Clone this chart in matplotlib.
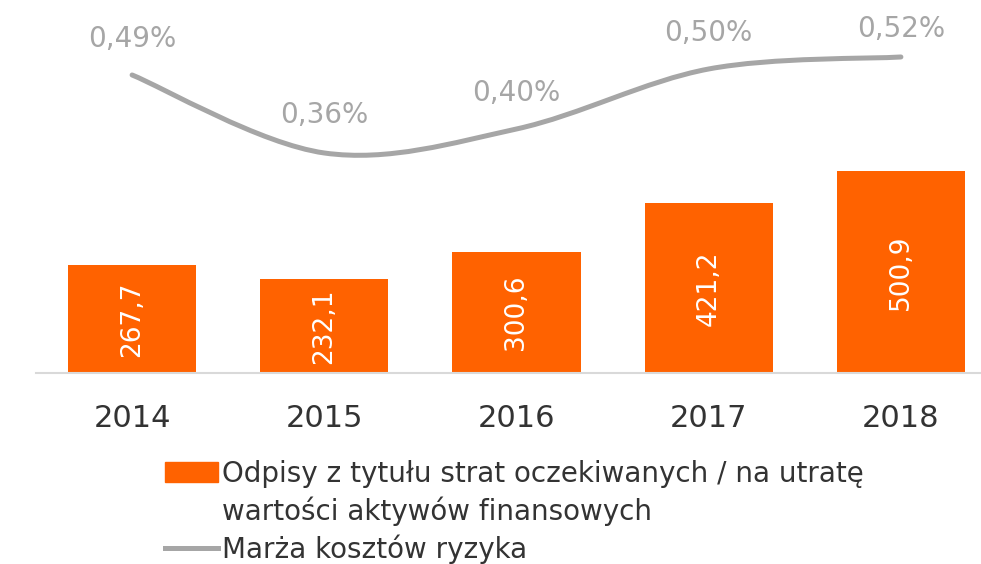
import numpy as np
import matplotlib.pyplot as plt
from matplotlib.path import Path
from matplotlib.patches import PathPatch, Patch
from matplotlib.lines import Line2D

plt.rcParams['font.family'] = ['DejaVu Sans']

# Data
years = ['2014', '2015', '2016', '2017', '2018']
writeoffs = [267.7, 232.1, 300.6, 421.2, 500.9]
risk_margin = [0.49, 0.36, 0.40, 0.50, 0.52]
writeoff_labels = ['267,7', '232,1', '300,6', '421,2', '500,9']
margin_labels = ['0,49%', '0,36%', '0,40%', '0,50%', '0,52%']

orange = '#FF6200'
grey = '#A6A6A6'
text_col = '#333333'

fig = plt.figure(figsize=(9.81, 5.64), dpi=100)
ax = fig.add_axes([36 / 981, 191 / 564, 961 / 981, 363 / 564])
ax2 = ax.twinx()

x = np.arange(len(years))
ax.bar(x, writeoffs, width=0.667, color=orange, zorder=2)
for xi, v, lab in zip(x, writeoffs, writeoff_labels):
    ax.text(xi, v / 2, lab, rotation=90, ha='center', va='center',
            color='white', fontsize=19)

ax.set_xlim(-0.5, 4.5)
ax.set_ylim(0, 900)
ax.set_xticks(x)
ax.set_xticklabels(years, fontsize=22, color=text_col)
ax.tick_params(axis='x', length=0, pad=22)
ax.set_yticks([])
for s in ['top', 'right', 'left']:
    ax.spines[s].set_visible(False)
ax.spines['bottom'].set_color('#D9D9D9')
ax.spines['bottom'].set_linewidth(1.5)

# smoothed line (Bezier through the points, Excel-like smoothing)
pts = np.column_stack([x, risk_margin]).astype(float)
ext = np.vstack([pts[0], pts, pts[-1]])
verts = [tuple(pts[0])]
codes = [Path.MOVETO]
for i in range(len(pts) - 1):
    p0, p1, p2, p3 = ext[i], ext[i + 1], ext[i + 2], ext[i + 3]
    c1 = p1 + (p2 - p0) / 6
    c2 = p2 - (p3 - p1) / 6
    verts += [tuple(c1), tuple(c2), tuple(p2)]
    codes += [Path.CURVE4] * 3
ax2.add_patch(PathPatch(Path(verts, codes), facecolor='none', edgecolor=grey,
                        lw=3.6, capstyle='round', zorder=3))
ax2.set_ylim(-0.0067, 0.5983)
ax2.set_yticks([])
for s in ax2.spines.values():
    s.set_visible(False)

offsets = [26, 27, 26, 26, 20]
for xi, v, lab, off in zip(x, risk_margin, margin_labels, offsets):
    ax2.annotate(lab, (xi, v), xytext=(0, off), textcoords='offset points',
                 ha='center', va='center', color=grey, fontsize=20)

handles = [Patch(color=orange), Patch(color='none'), Line2D([], [], color=grey, lw=3.6)]
labels = ['Odpisy z tytułu strat oczekiwanych / na utratę',
          'wartości aktywów finansowych',
          'Marża kosztów ryzyka']
fig.legend(handles, labels, loc='upper left', bbox_to_anchor=(151 / 981, 1 - 446 / 564),
           frameon=False, fontsize=20, handlelength=1.9, handletextpad=0.15,
           labelspacing=0.3, borderpad=0, labelcolor=text_col)

fig.savefig('out.png', dpi=100)
